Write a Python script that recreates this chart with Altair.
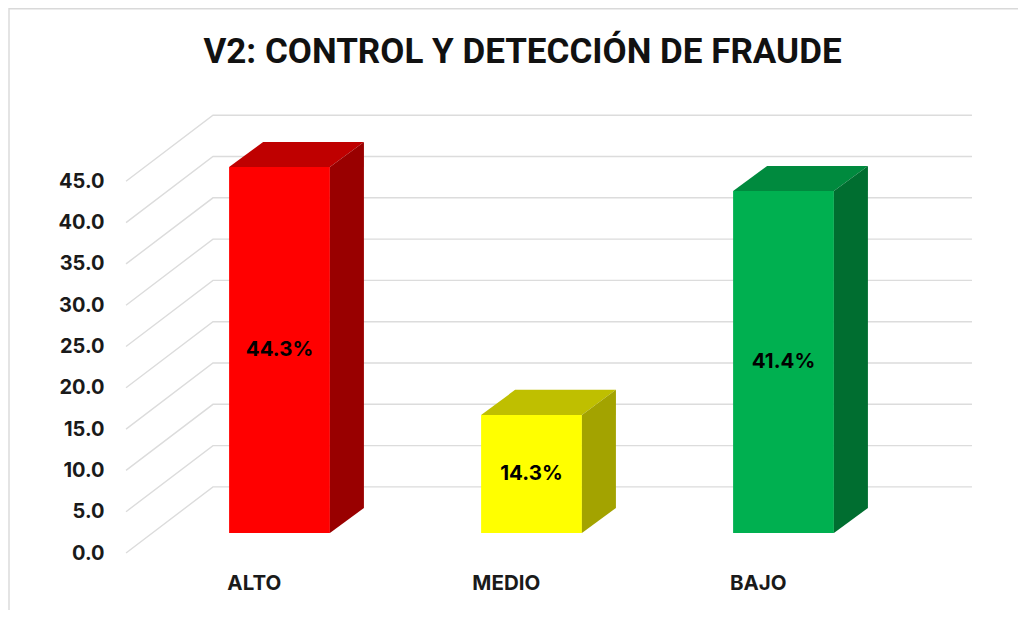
import altair as alt
import pandas as pd

categories = ["ALTO", "MEDIO", "BAJO"]
values = [44.3, 14.3, 41.4]
labels = ["44.3%", "14.3%", "41.4%"]
front_colors = ["#ff0000", "#ffff00", "#00b050"]
top_colors = ["#bf0000", "#bfbf00", "#008a3e"]
side_colors = ["#990000", "#a3a300", "#006e30"]
ticks = [0, 5, 10, 15, 20, 25, 30, 35, 40, 45]
title_text = "V2: CONTROL Y DETECCIÓN DE FRAUDE"

W, H = 1010, 602
FONT = "Roboto"
LABEL_FONT = "Inter"
X0, XU = 271.5, 252.0   # chart px of category 0, px per category
Y0, YU = 545.0, 8.26    # chart px of value 0, px per unit
x_scale = alt.Scale(domain=[-X0 / XU, (W - X0) / XU], range=[0, W], nice=False, zero=False)
y_scale = alt.Scale(domain=[(Y0 - H) / YU, Y0 / YU], range=[H, 0], nice=False, zero=False)
y_axis = alt.Axis(
    values=ticks, format=".1f", offset=-96, domain=False, ticks=False, grid=False,
    title=None, labelPadding=0, labelFont=LABEL_FONT, labelFontSize=20, labelFontWeight="bold",
    labelColor="#1a1a1a", labelOffset=0, labelFlush=False, labelOverlap=False)

half = 0.2
depth_x = 0.135
depth_y = 3.03
floor = 2.42
grid_front, grid_back, grid_end = -0.609, -0.264, 2.748
grid_rise = 8.0

grid_rows, front_rows, top_rows, side_rows, text_rows = [], [], [], [], []
for t in ticks:
    grid_rows += [
        {"t": t, "o": 0, "x": grid_front, "y": t},
        {"t": t, "o": 1, "x": grid_back, "y": t + grid_rise},
        {"t": t, "o": 2, "x": grid_end, "y": t + grid_rise},
    ]
for i, (cat, v) in enumerate(zip(categories, values)):
    l, r, b, tp = i - half, i + half, floor, v + floor
    front_rows.append({"c": cat, "x": l, "x2": r, "y": b, "y2": tp, "col": front_colors[i]})
    top_rows += [
        {"c": cat, "y": tp, "x": l, "x2": r, "col": top_colors[i]},
        {"c": cat, "y": tp + depth_y, "x": l + depth_x, "x2": r + depth_x, "col": top_colors[i]},
    ]
    side_rows += [
        {"c": cat, "x": r, "y": b, "y2": tp, "col": side_colors[i]},
        {"c": cat, "x": r + depth_x, "y": b + depth_y, "y2": tp + depth_y, "col": side_colors[i]},
    ]
    text_rows.append({"c": cat, "lab": labels[i], "x": i, "y": floor + v / 2, "xl": i - 0.1, "yl": -3.7})

X = lambda f="x": alt.X(f"{f}:Q", scale=x_scale, axis=None)
Y = lambda f="y": alt.Y(f"{f}:Q", scale=y_scale, axis=y_axis)

grid = alt.Chart(pd.DataFrame(grid_rows)).mark_line(color="#dcdcdc", strokeWidth=1.4).encode(
    x=X(), y=Y(), detail="t:N", order="o:Q")
front = alt.Chart(pd.DataFrame(front_rows)).mark_rect().encode(
    x=X(), x2="x2:Q", y=Y(), y2="y2:Q", color=alt.Color("col:N", scale=None))
top = alt.Chart(pd.DataFrame(top_rows)).mark_area(orient="horizontal").encode(
    y=Y(), x=X(), x2="x2:Q", color=alt.Color("col:N", scale=None), detail="c:N")
side = alt.Chart(pd.DataFrame(side_rows)).mark_area(orient="vertical").encode(
    x=X(), y=Y(), y2="y2:Q", color=alt.Color("col:N", scale=None), detail="c:N")

text_df = pd.DataFrame(text_rows)
value_text = alt.Chart(text_df).mark_text(font=LABEL_FONT, fontSize=20.5, fontWeight="bold", color="#000000").encode(
    x=X(), y=Y(), text="lab:N")
cat_text = alt.Chart(text_df).mark_text(font=LABEL_FONT, fontSize=20.5, fontWeight="bold", color="#1a1a1a").encode(
    x=X("xl"), y=Y("yl"), text="c:N")

border_left = alt.Chart(pd.DataFrame({"a": [0]})).mark_rule(color="#d9d9d9", strokeWidth=1.4).encode(
    x=alt.value(1), y=alt.value(0), y2=alt.value(H))
border_top = alt.Chart(pd.DataFrame({"a": [0]})).mark_rule(color="#d9d9d9", strokeWidth=1.4).encode(
    y=alt.value(0.7), x=alt.value(1), x2=alt.value(W))

chart = alt.layer(grid, border_left, border_top, front, top, side, value_text, cat_text).properties(
    width=W, height=H,
    autosize=alt.AutoSizeParams(type="none"),
    padding=0,
    background="#ffffff",
    title=alt.Title(title_text, anchor="middle", offset=-63, dx=9.5, font=FONT, fontSize=35,
                    fontWeight="bold", color="#111111"),
).configure_view(stroke=None)

chart.save("out.html", embed_options={"renderer": "svg", "actions": False})
